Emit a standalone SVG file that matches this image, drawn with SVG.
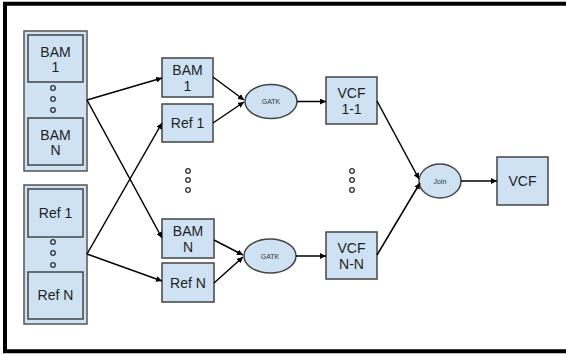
<svg xmlns="http://www.w3.org/2000/svg" width="566" height="354" viewBox="0 0 566 354">
<defs>
<style>
.box{fill:#cfe2f3;stroke:#444;stroke-width:1.5}
.grp{fill:#cfe2f3;stroke:#555;stroke-width:1.5}
.t{font-family:"Liberation Sans",Arial,sans-serif;font-size:14px;fill:#222;text-anchor:middle}
.s{font-family:"Liberation Sans",Arial,sans-serif;font-size:7px;fill:#333;text-anchor:middle}
.dot{fill:none;stroke:#333;stroke-width:1.3}
.c{stroke:#000;stroke-width:1.5;fill:none;marker-end:url(#a)}
</style>
<marker id="a" viewBox="0 0 10 10" refX="10" refY="5" markerWidth="6" markerHeight="6" orient="auto" markerUnits="userSpaceOnUse">
<path d="M0,0 L10,5 L0,10 z" fill="#000"/>
</marker>
</defs>
<rect x="0" y="0" width="566" height="354" fill="#fff"/>
<rect x="5" y="3.75" width="570" height="347.5" fill="none" stroke="#000" stroke-width="4"/>

<g id="bamGroup">
<rect class="grp" x="24" y="31" width="63" height="140"/>
<rect class="box" x="28" y="35" width="55" height="47"/>
<text class="t" x="55.5" y="57">BAM</text><text class="t" x="55.5" y="72">1</text>
<circle class="dot" cx="53" cy="88" r="2.3"/><circle class="dot" cx="53" cy="99" r="2.3"/><circle class="dot" cx="53" cy="110" r="2.3"/>
<rect class="box" x="28" y="118" width="55" height="47"/>
<text class="t" x="55.5" y="140">BAM</text><text class="t" x="55.5" y="155">N</text>
</g>

<g id="refGroup">
<rect class="grp" x="24" y="185" width="63" height="139"/>
<rect class="box" x="28" y="189" width="55" height="48"/>
<text class="t" x="55.5" y="218">Ref 1</text>
<circle class="dot" cx="53" cy="242" r="2.3"/><circle class="dot" cx="53" cy="253" r="2.3"/><circle class="dot" cx="53" cy="265" r="2.3"/>
<rect class="box" x="28" y="272" width="55" height="47"/>
<text class="t" x="55.5" y="300">Ref N</text>
</g>

<g id="bam1"><rect class="box" x="162" y="58" width="51" height="39"/><text class="t" x="187.5" y="75">BAM</text><text class="t" x="187.5" y="91">1</text></g>
<g id="ref1"><rect class="box" x="162" y="104" width="51" height="38"/><text class="t" x="187.5" y="128">Ref 1</text></g>
<g id="bamN"><rect class="box" x="162" y="219" width="52" height="39"/><text class="t" x="188" y="236">BAM</text><text class="t" x="188" y="252">N</text></g>
<g id="refN"><rect class="box" x="162" y="263" width="52" height="39"/><text class="t" x="188" y="288">Ref N</text></g>

<g id="dotsMid">
<circle class="dot" cx="188" cy="171" r="2.3"/><circle class="dot" cx="188" cy="180" r="2.3"/><circle class="dot" cx="188" cy="190" r="2.3"/>
</g>
<g id="dotsRight">
<circle class="dot" cx="352" cy="171" r="2.3"/><circle class="dot" cx="352" cy="180" r="2.3"/><circle class="dot" cx="352" cy="190" r="2.3"/>
</g>

<g id="gatk1"><ellipse class="box" cx="271" cy="101.5" rx="26" ry="17"/><text class="s" x="271" y="104">GATK</text></g>
<g id="gatk2"><ellipse class="box" cx="270" cy="256" rx="26" ry="17"/><text class="s" x="270" y="258.5">GATK</text></g>

<g id="vcf11"><rect class="box" x="326" y="77" width="51" height="47"/><text class="t" x="351.5" y="98">VCF</text><text class="t" x="351.5" y="114">1-1</text></g>
<g id="vcfNN"><rect class="box" x="326" y="232" width="51" height="47"/><text class="t" x="351.5" y="253">VCF</text><text class="t" x="351.5" y="269">N-N</text></g>

<g id="join"><ellipse class="box" cx="440" cy="181" rx="21" ry="17"/><text class="s" x="440" y="183.5">Join</text></g>
<g id="vcf"><rect class="box" x="497" y="157" width="51" height="48"/><text class="t" x="522.5" y="186">VCF</text></g>

<g id="connectors">
<path class="c" d="M87,100 L162,78"/>
<path class="c" d="M87,100 L162,238"/>
<path class="c" d="M87,254 L162,123"/>
<path class="c" d="M87,254 L162,281"/>
<path class="c" d="M213,77 L244,100"/>
<path class="c" d="M213,123 L244,102"/>
<path class="c" d="M297,101.5 L326,101.5"/>
<path class="c" d="M214,240 L243,255"/>
<path class="c" d="M214,283 L243,257"/>
<path class="c" d="M296,256 L326,256"/>
<path class="c" d="M377,101 L419,179"/>
<path class="c" d="M377,255 L420,183"/>
<path class="c" d="M461,181 L497,181"/>
</g>
</svg>
